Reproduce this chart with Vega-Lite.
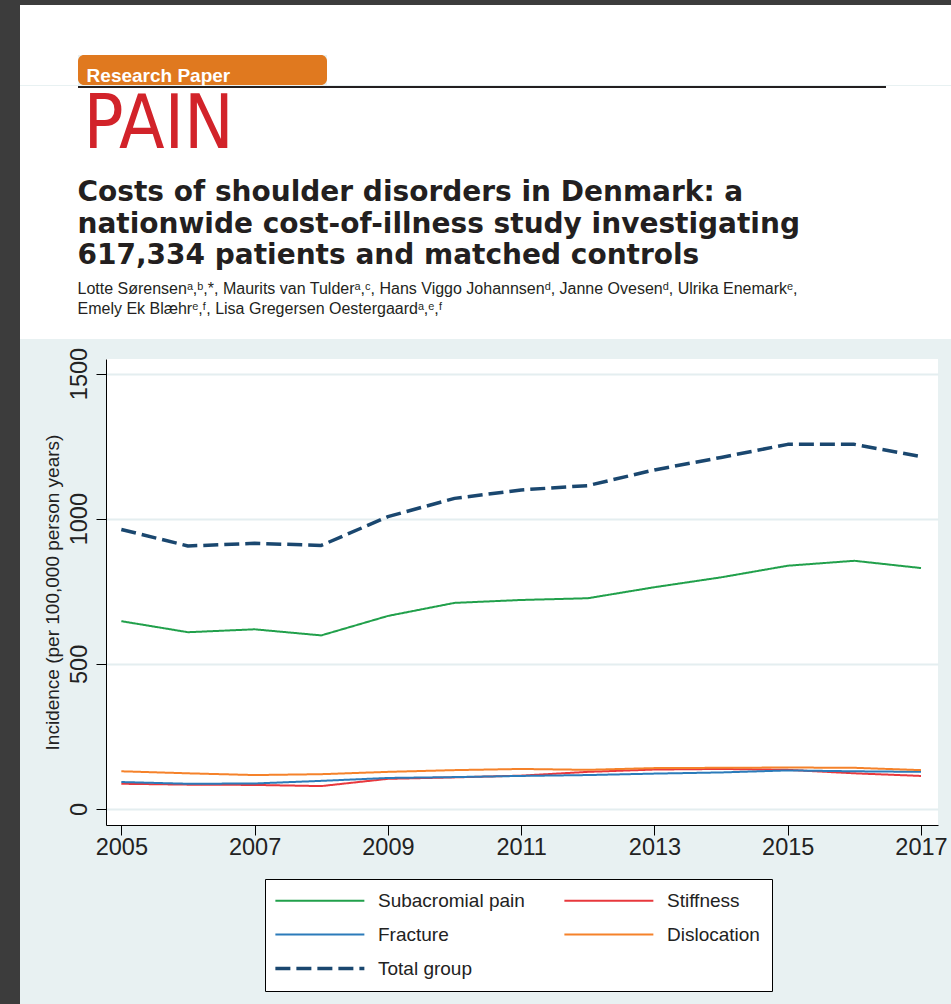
{
  "$schema": "https://vega.github.io/schema/vega-lite/v6.json",
  "padding": 0,
  "background": "#e8f1f2",
  "spacing": 0,
  "hconcat": [
    {"width": 20, "height": 1004, "data": {"values": []}, "mark": "text", "encoding": {}, "view": {"fill": "#3c3c3c", "stroke": null}},
    {
      "spacing": 0,
      "align": "none",
      "vconcat": [
        {"width": 931, "height": 5, "data": {"values": []}, "mark": "text", "encoding": {}, "view": {"fill": "#3c3c3c", "stroke": null}},
        {"width": 931, "height": 50, "data": {"values": []}, "mark": "text", "encoding": {}, "view": {"fill": "#ffffff", "stroke": null}},
        {
          "spacing": 0,
          "hconcat": [
            {"width": 58, "height": 30, "data": {"values": []}, "mark": "text", "encoding": {}, "view": {"fill": "#ffffff", "stroke": null}},
            {
              "width": 249, "height": 30, "data": {"values": []}, "mark": "text", "encoding": {},
              "view": {"fill": "#e0791f", "stroke": null, "cornerRadius": 6},
              "title": {"text": "Research Paper", "orient": "bottom", "anchor": "start", "offset": -18.3, "dx": 8.6,
                        "font": "Liberation Sans", "fontSize": 19, "fontWeight": "bold", "color": "#ffffff"}
            },
            {"width": 624, "height": 30, "data": {"values": []}, "mark": "text", "encoding": {}, "view": {"fill": "#ffffff", "stroke": null}}
          ]
        },
        {
          "spacing": 0,
          "hconcat": [
            {"width": 58, "height": 2, "data": {"values": []}, "mark": "text", "encoding": {}, "view": {"fill": "#ffffff", "stroke": null}},
            {"width": 808, "height": 2, "data": {"values": []}, "mark": "text", "encoding": {}, "view": {"fill": "#231f20", "stroke": null}},
            {"width": 65, "height": 2, "data": {"values": []}, "mark": "text", "encoding": {}, "view": {"fill": "#ffffff", "stroke": null}}
          ]
        },
        {
          "width": 931, "height": 78, "data": {"values": []}, "mark": "text", "encoding": {},
          "view": {"fill": "#ffffff", "stroke": null},
          "title": {"text": "PAIN", "orient": "bottom", "anchor": "start", "offset": -76.5, "dx": 63.5,
                    "font": "DejaVu Sans Condensed, Liberation Sans, sans-serif", "fontSize": 74, "fontWeight": "normal", "color": "#d2232a"}
        },
        {
          "width": 931, "height": 173, "data": {"values": []}, "mark": "text", "encoding": {},
          "view": {"fill": "#ffffff", "stroke": null},
          "title": {
            "text": ["Costs of shoulder disorders in Denmark: a", "nationwide cost-of-illness study investigating", "617,334 patients and matched controls"],
            "subtitle": ["Lotte Sørensenᵃ,ᵇ,*, Maurits van Tulderᵃ,ᶜ, Hans Viggo Johannsenᵈ, Janne Ovesenᵈ, Ulrika Enemarkᵉ,", "Emely Ek Blæhrᵉ,ᶠ, Lisa Gregersen Oestergaardᵃ,ᵉ,ᶠ"],
            "orient": "bottom", "anchor": "start", "offset": -160, "dx": 57.5,
            "font": "DejaVu Sans", "fontSize": 28, "fontWeight": "bold", "color": "#231f20", "lineHeight": 31.5,
            "subtitleFont": "Liberation Sans", "subtitleFontSize": 16, "subtitleColor": "#231f20",
            "subtitleLineHeight": 19.5, "subtitlePadding": 11
          }
        },
        {"width": 1, "height": 8, "data": {"values": []}, "mark": "text", "encoding": {}, "view": {"fill": null, "stroke": null}},
        {
          "spacing": 22,
          "hconcat": [
            {"width": 1, "height": 1, "data": {"values": []}, "mark": "text", "encoding": {}, "view": {"fill": null, "stroke": null}},
            {
              "width": 832,
              "height": 466,
              "view": {"fill": "#ffffff", "stroke": null},
              "data": {
                "values": [
                  {"year": 2005, "series": "Subacromial pain", "incidence": 647},
                  {"year": 2006, "series": "Subacromial pain", "incidence": 609},
                  {"year": 2007, "series": "Subacromial pain", "incidence": 619},
                  {"year": 2008, "series": "Subacromial pain", "incidence": 598},
                  {"year": 2009, "series": "Subacromial pain", "incidence": 665},
                  {"year": 2010, "series": "Subacromial pain", "incidence": 710},
                  {"year": 2011, "series": "Subacromial pain", "incidence": 720},
                  {"year": 2012, "series": "Subacromial pain", "incidence": 726},
                  {"year": 2013, "series": "Subacromial pain", "incidence": 764},
                  {"year": 2014, "series": "Subacromial pain", "incidence": 798},
                  {"year": 2015, "series": "Subacromial pain", "incidence": 838},
                  {"year": 2016, "series": "Subacromial pain", "incidence": 855},
                  {"year": 2017, "series": "Subacromial pain", "incidence": 830},
                  {"year": 2005, "series": "Stiffness", "incidence": 87},
                  {"year": 2006, "series": "Stiffness", "incidence": 84},
                  {"year": 2007, "series": "Stiffness", "incidence": 83},
                  {"year": 2008, "series": "Stiffness", "incidence": 79},
                  {"year": 2009, "series": "Stiffness", "incidence": 104},
                  {"year": 2010, "series": "Stiffness", "incidence": 109},
                  {"year": 2011, "series": "Stiffness", "incidence": 115},
                  {"year": 2012, "series": "Stiffness", "incidence": 128},
                  {"year": 2013, "series": "Stiffness", "incidence": 136},
                  {"year": 2014, "series": "Stiffness", "incidence": 138},
                  {"year": 2015, "series": "Stiffness", "incidence": 135},
                  {"year": 2016, "series": "Stiffness", "incidence": 123},
                  {"year": 2017, "series": "Stiffness", "incidence": 114},
                  {"year": 2005, "series": "Fracture", "incidence": 93},
                  {"year": 2006, "series": "Fracture", "incidence": 87},
                  {"year": 2007, "series": "Fracture", "incidence": 88},
                  {"year": 2008, "series": "Fracture", "incidence": 97},
                  {"year": 2009, "series": "Fracture", "incidence": 107},
                  {"year": 2010, "series": "Fracture", "incidence": 110},
                  {"year": 2011, "series": "Fracture", "incidence": 114},
                  {"year": 2012, "series": "Fracture", "incidence": 117},
                  {"year": 2013, "series": "Fracture", "incidence": 122},
                  {"year": 2014, "series": "Fracture", "incidence": 126},
                  {"year": 2015, "series": "Fracture", "incidence": 133},
                  {"year": 2016, "series": "Fracture", "incidence": 130},
                  {"year": 2017, "series": "Fracture", "incidence": 128},
                  {"year": 2005, "series": "Dislocation", "incidence": 130},
                  {"year": 2006, "series": "Dislocation", "incidence": 123},
                  {"year": 2007, "series": "Dislocation", "incidence": 117},
                  {"year": 2008, "series": "Dislocation", "incidence": 120},
                  {"year": 2009, "series": "Dislocation", "incidence": 128},
                  {"year": 2010, "series": "Dislocation", "incidence": 134},
                  {"year": 2011, "series": "Dislocation", "incidence": 138},
                  {"year": 2012, "series": "Dislocation", "incidence": 135},
                  {"year": 2013, "series": "Dislocation", "incidence": 141},
                  {"year": 2014, "series": "Dislocation", "incidence": 142},
                  {"year": 2015, "series": "Dislocation", "incidence": 143},
                  {"year": 2016, "series": "Dislocation", "incidence": 142},
                  {"year": 2017, "series": "Dislocation", "incidence": 134},
                  {"year": 2005, "series": "Total group", "incidence": 963},
                  {"year": 2006, "series": "Total group", "incidence": 906},
                  {"year": 2007, "series": "Total group", "incidence": 915},
                  {"year": 2008, "series": "Total group", "incidence": 908},
                  {"year": 2009, "series": "Total group", "incidence": 1007},
                  {"year": 2010, "series": "Total group", "incidence": 1070},
                  {"year": 2011, "series": "Total group", "incidence": 1099},
                  {"year": 2012, "series": "Total group", "incidence": 1114},
                  {"year": 2013, "series": "Total group", "incidence": 1168},
                  {"year": 2014, "series": "Total group", "incidence": 1211},
                  {"year": 2015, "series": "Total group", "incidence": 1256},
                  {"year": 2016, "series": "Total group", "incidence": 1256},
                  {"year": 2017, "series": "Total group", "incidence": 1214}
                ]
              },
              "mark": {"type": "line", "strokeCap": "butt", "strokeJoin": "round"},
              "encoding": {
                "x": {
                  "field": "year", "type": "quantitative",
                  "scale": {"domain": [2004.77, 2017.255], "nice": false, "zero": false},
                  "axis": {"values": [2005, 2007, 2009, 2011, 2013, 2015, 2017], "format": "d", "title": null, "grid": false,
                           "labelFlush": false, "labelPadding": 0, "labelBaseline": "top"}
                },
                "y": {
                  "field": "incidence", "type": "quantitative",
                  "scale": {"domain": [-55, 1550], "nice": false, "zero": false},
                  "axis": {"values": [0, 500, 1000, 1500], "format": "d", "title": "Incidence (per 100,000 person years)", "grid": true,
                           "labelAngle": -90, "labelAlign": "center", "labelBaseline": "alphabetic", "labelPadding": 10,
                           "titlePadding": 5}
                },
                "color": {
                  "field": "series", "type": "nominal",
                  "scale": {"domain": ["Subacromial pain", "Fracture", "Total group", "Stiffness", "Dislocation"],
                            "range": ["#21a04b", "#2b7bba", "#1a476f", "#e8383d", "#f5822a"]},
                  "legend": {
                    "orient": "none", "legendX": 265, "legendY": 879, "columns": 2, "title": null,
                    "encode": {"symbols": {"update": {"strokeWidth": {"signal": "datum.value === 'Total group' ? 3.5 : 2"}}}}
                  }
                },
                "strokeDash": {
                  "field": "series", "type": "nominal",
                  "scale": {"domain": ["Subacromial pain", "Fracture", "Total group", "Stiffness", "Dislocation"],
                            "range": [[1, 0], [1, 0], [15, 6], [1, 0], [1, 0]]}
                },
                "strokeWidth": {"condition": {"test": "datum.series === 'Total group'", "value": 3.5}, "value": 2}
              }
            }
          ]
        }
      ]
    }
  ],
  "config": {
    "view": {"stroke": null},
    "axis": {
      "domainColor": "#000000", "domainWidth": 1, "tickColor": "#000000", "tickWidth": 1, "tickSize": 10,
      "labelFont": "Liberation Sans", "labelFontSize": 23.5, "labelColor": "#222222",
      "titleFont": "Liberation Sans", "titleFontSize": 19, "titleFontWeight": "normal", "titleColor": "#222222",
      "gridColor": "#e4eef0", "gridWidth": 2
    },
    "legend": {
      "orient": "none", "legendX": 265, "legendY": 879, "columns": 2,
      "symbolType": "M-1,0H7", "symbolSize": 495, "labelOffset": 82,
      "labelFont": "Liberation Sans", "labelFontSize": 19, "labelColor": "#222222", "labelLimit": 300,
      "padding": 12, "fillColor": "#ffffff", "strokeColor": "#000000", "strokeWidth": 1,
      "rowPadding": 14, "columnPadding": 35
    }
  }
}
